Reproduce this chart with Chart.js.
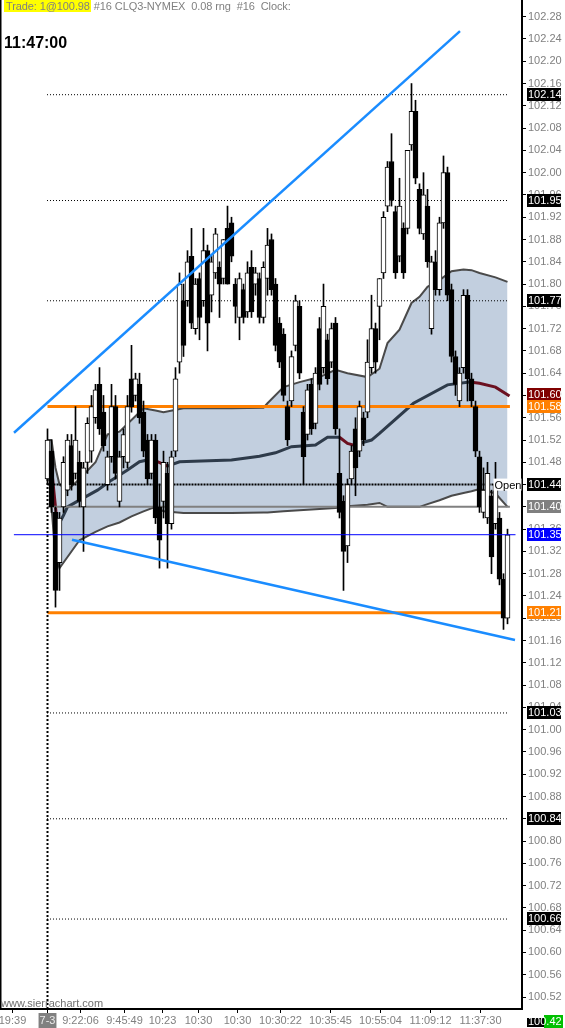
<!DOCTYPE html>
<html>
<head>
<meta charset="utf-8">
<script src="https://cdn.jsdelivr.net/npm/chart.js@4.4.0/dist/chart.umd.min.js"></script>
<style>
  html, body { margin: 0; padding: 0; background: #fff; }
  #wrap { position: relative; width: 565px; height: 1028px; overflow: hidden; }
  #chart { position: absolute; left: 0; top: 0; }
  .hdr { position: absolute; left: 4px; top: 0; font: 11px "Liberation Sans", Arial, sans-serif; letter-spacing: -0.1px; color: #808080; white-space: pre; line-height: 13px; }
  .hdr .trade { background: #ffff00; padding: 0 1px 0 2px; }
  .clock { position: absolute; left: 4px; top: 34px; font: bold 16px "Liberation Sans", Arial, sans-serif; line-height: 18px; color: #000; }
  .site { position: absolute; left: 1px; top: 997px; font: 11px "Liberation Sans", Arial, sans-serif; line-height: 13px; color: #707070; }
</style>
</head>
<body>
<div id="wrap">
  <canvas id="chart" width="565" height="1028"></canvas>
  <div class="hdr"><span class="trade">Trade: 1@100.98</span> #16 CLQ3-NYMEX  0.08 rng  #16  Clock:</div>
  <div class="clock">11:47:00</div>
  <div class="site">www.sierrachart.com</div>
</div>
<script>
// CLQ3-NYMEX intraday candles (one entry per bar)
const opens = [
  101.45, 101.50, 101.39, 101.30, 101.40, 101.43, 101.51, 101.46, 101.48, 101.40,
  101.48, 101.50, 101.56, 101.62, 101.57, 101.44, 101.49, 101.58, 101.41, 101.49,
  101.48, 101.63, 101.60, 101.62, 101.57, 101.52, 101.46, 101.52, 101.40, 101.41,
  101.46, 101.37, 101.50, 101.66, 101.77, 101.77, 101.85, 101.72, 101.81, 101.77,
  101.86, 101.78, 101.82, 101.83, 101.81, 101.90, 101.91, 101.80, 101.74, 101.79,
  101.75, 101.83, 101.80, 101.81, 101.74, 101.81, 101.88, 101.80, 101.73, 101.71,
  101.58, 101.59, 101.69, 101.76, 101.57, 101.53, 101.62, 101.55, 101.72, 101.65,
  101.70, 101.66, 101.73, 101.46, 101.41, 101.33, 101.45, 101.54, 101.50, 101.56,
  101.57, 101.65, 101.72, 101.76, 101.82, 101.94, 102.02, 101.93, 101.85, 101.90,
  101.90, 102.05, 102.11, 101.97, 101.89, 101.94, 101.72, 101.84, 101.79, 101.91,
  102.00, 101.79, 101.67, 101.59, 101.65, 101.78, 101.63, 101.58, 101.49, 101.39,
  101.38, 101.42, 101.37, 101.38, 101.27, 101.20
]
const highs = [
  101.54, 101.52, 101.40, 101.39, 101.49, 101.53, 101.53, 101.58, 101.50, 101.48,
  101.56, 101.60, 101.62, 101.65, 101.60, 101.50, 101.62, 101.60, 101.50, 101.54,
  101.60, 101.69, 101.64, 101.64, 101.59, 101.53, 101.53, 101.53, 101.44, 101.50,
  101.48, 101.50, 101.65, 101.82, 101.80, 101.86, 101.90, 101.81, 101.82, 101.90,
  101.87, 101.85, 101.90, 101.84, 101.88, 101.94, 101.92, 101.81, 101.82, 101.80,
  101.84, 101.86, 101.83, 101.82, 101.84, 101.90, 101.89, 101.81, 101.74, 101.72,
  101.59, 101.68, 101.78, 101.77, 101.58, 101.62, 101.63, 101.65, 101.74, 101.80,
  101.71, 101.73, 101.74, 101.54, 101.42, 101.45, 101.51, 101.56, 101.59, 101.57,
  101.70, 101.78, 101.73, 101.81, 101.93, 102.02, 102.07, 101.94, 101.99, 101.91,
  102.04, 102.16, 102.13, 101.98, 102.00, 101.97, 101.85, 101.86, 101.92, 102.03,
  102.01, 101.80, 101.68, 101.65, 101.79, 101.79, 101.64, 101.59, 101.50, 101.47,
  101.48, 101.43, 101.48, 101.39, 101.28, 101.36
]
const lows = [
  101.44, 101.39, 101.22, 101.25, 101.39, 101.42, 101.43, 101.45, 101.40, 101.32,
  101.46, 101.48, 101.55, 101.53, 101.50, 101.43, 101.48, 101.45, 101.40, 101.47,
  101.47, 101.57, 101.59, 101.55, 101.49, 101.44, 101.45, 101.37, 101.29, 101.38,
  101.29, 101.36, 101.49, 101.64, 101.67, 101.76, 101.72, 101.71, 101.70, 101.76,
  101.68, 101.75, 101.81, 101.74, 101.80, 101.80, 101.84, 101.73, 101.70, 101.73,
  101.74, 101.74, 101.78, 101.73, 101.73, 101.78, 101.78, 101.68, 101.65, 101.59,
  101.51, 101.58, 101.68, 101.63, 101.44, 101.52, 101.53, 101.54, 101.61, 101.64,
  101.62, 101.65, 101.53, 101.38, 101.25, 101.30, 101.44, 101.42, 101.49, 101.51,
  101.56, 101.64, 101.64, 101.70, 101.81, 101.93, 101.94, 101.81, 101.84, 101.81,
  101.89, 102.04, 101.98, 101.89, 101.88, 101.83, 101.71, 101.78, 101.78, 101.90,
  101.77, 101.66, 101.60, 101.58, 101.64, 101.59, 101.58, 101.49, 101.39, 101.38,
  101.37, 101.28, 101.36, 101.26, 101.18, 101.19
]
const closes = [
  101.52, 101.40, 101.25, 101.38, 101.48, 101.52, 101.44, 101.52, 101.41, 101.47,
  101.55, 101.58, 101.61, 101.54, 101.51, 101.49, 101.58, 101.46, 101.49, 101.53,
  101.58, 101.58, 101.63, 101.56, 101.50, 101.45, 101.52, 101.38, 101.34, 101.48,
  101.37, 101.49, 101.63, 101.80, 101.69, 101.84, 101.73, 101.80, 101.74, 101.86,
  101.73, 101.84, 101.89, 101.80, 101.88, 101.80, 101.85, 101.76, 101.81, 101.74,
  101.82, 101.75, 101.82, 101.74, 101.83, 101.87, 101.79, 101.69, 101.66, 101.60,
  101.52, 101.67, 101.77, 101.64, 101.49, 101.61, 101.54, 101.64, 101.62, 101.76,
  101.63, 101.72, 101.54, 101.39, 101.32, 101.44, 101.50, 101.47, 101.58, 101.52,
  101.66, 101.72, 101.66, 101.81, 101.92, 102.01, 101.95, 101.82, 101.94, 101.82,
  102.04, 102.11, 101.99, 101.90, 101.96, 101.84, 101.84, 101.79, 101.91, 102.00,
  101.78, 101.67, 101.62, 101.64, 101.78, 101.63, 101.59, 101.50, 101.40, 101.43,
  101.46, 101.31, 101.44, 101.27, 101.20, 101.35
]

// Bands (bar index -> price)
const bandIdx = [0, 1, 2, 3, 5, 8, 12, 15, 18, 21, 24, 27, 29, 34, 46, 54, 55, 59, 63, 68,
  72, 75, 80, 83, 85, 88, 91, 93, 95, 98, 101, 104, 106, 108, 112, 115]
const bandUpper = [101.52, 101.52, 101.47, 101.44, 101.43, 101.45, 101.48, 101.53, 101.535, 101.556,
  101.577, 101.573, 101.570, 101.577, 101.577, 101.578, 101.586, 101.615, 101.624, 101.633,
  101.646, 101.640, 101.633, 101.648, 101.694, 101.718, 101.766, 101.777, 101.795, 101.807,
  101.823, 101.826, 101.825, 101.820, 101.812, 101.804]
const bandLower = [101.50, 101.40, 101.31, 101.29, 101.31, 101.34, 101.355, 101.365, 101.372, 101.383,
  101.392, 101.400, 101.392, 101.389, 101.389, 101.390, 101.390, 101.392, 101.394, 101.396,
  101.398, 101.401, 101.404, 101.407, 101.400, 101.400, 101.400, 101.400, 101.405, 101.412,
  101.420, 101.425, 101.428, 101.432, 101.424, 101.400]
const midIdx = [0, 1, 2.5, 4, 5, 8, 12.5, 16, 20, 23, 25, 27.5, 30, 33, 46, 53, 57, 61, 67, 70,
  73, 75, 77, 79, 81, 83, 91.5, 100, 105.5, 108, 112, 115.5]
const midLine = [101.511, 101.47, 101.364, 101.385, 101.400, 101.412, 101.430, 101.448, 101.466, 101.481,
  101.484, 101.481, 101.473, 101.481, 101.484, 101.491, 101.497, 101.508, 101.511, 101.525,
  101.525, 101.514, 101.510, 101.516, 101.520, 101.532, 101.586, 101.619, 101.624, 101.622,
  101.615, 101.599]

// Levels
const dottedLevels = [102.14, 101.95, 101.77, 101.03, 100.84, 100.66]
const orangeLevels = [101.58, 101.21]
const openLevel = 101.44
const prevLevel = 101.40
const lastLevel = 101.35

// Trend lines (bar index, price)
const trendUpIdx = [-8.375, 103.125]
const trendUpVal = [101.533, 102.254]
const trendDnIdx = [6.125, 116.875]
const trendDnVal = [101.341, 101.161]

// Axis labels
const xTickIdx = [-8.75, 0, 8.25, 19.25, 28.75, 37.75, 47.5, 58.25, 70.75, 83.25, 95.75, 108.25]
const xTickLabels = ["19:39", "7-3", "9:22:06", "9:45:49", "10:23", "10:30", "10:30", "10:30:22", "10:35:45", "10:55:04", "11:09:12", "11:37:30"]
const yTicks = []
for (let k = 0; k <= 44; k++) yTicks.push(Math.round((100.52 + 0.04 * k) * 100) / 100)

// Price boxes on the right scale
const boxValues = [102.14, 101.95, 101.77, 101.60, 101.58, 101.44, 101.40, 101.35, 101.21, 101.03, 100.84, 100.66]
const boxColors = ["#000", "#000", "#000", "#800000", "#ff8000", "#000", "#808080", "#0000ff", "#ff8000", "#000", "#000", "#000"]

const Y_MIN = 100.4985
const Y_MAX = 102.31
const X_MIN = -11.875
const X_MAX = 118.625
const FONT = '"Liberation Sans", Arial, sans-serif'

Chart.defaults.font.family = FONT

function hline(v, from, to, color, width, dash, order) {
  return {
    type: "line",
    data: [{ x: from, y: v }, { x: to, y: v }],
    borderColor: color,
    borderWidth: width,
    borderDash: dash || [],
    pointRadius: 0,
    fill: false,
    order: order,
  }
}

function buildDatasets() {
  const ds = []
  ds.push({
    type: "line",
    data: bandIdx.map((x, k) => ({ x: x, y: bandUpper[k] })),
    borderColor: "#4a4a4a",
    borderWidth: 2,
    backgroundColor: "#c2cfdf",
    fill: "+1",
    pointRadius: 0,
    order: 30,
  })
  ds.push({
    type: "line",
    data: bandIdx.map((x, k) => ({ x: x, y: bandLower[k] })),
    borderColor: "#4a4a4a",
    borderWidth: 2,
    fill: false,
    pointRadius: 0,
    order: 29,
  })
  ds.push({
    type: "line",
    data: midIdx.map((x, k) => ({ x: x, y: midLine[k] })),
    borderColor: "#2e3b4a",
    borderWidth: 3,
    fill: false,
    pointRadius: 0,
    order: 28,
    segment: {
      borderColor: (ctx) => (ctx.p1.parsed.y < ctx.p0.parsed.y - 0.0005 ? "#6b1020" : "#2e3b4a"),
    },
  })
  // dotted levels start on a whole pixel so the dots stay crisp
  dottedLevels.forEach((v) => ds.push(hline(v, -0.125, 115.125, "#000", 1, [1, 2], 26)))
  ds.push(hline(openLevel, 0, 111.5, "#000", 2, [2, 1], 25))
  ds.push(hline(prevLevel, 0, 115.6, "#808080", 2, null, 24))
  orangeLevels.forEach((v) => ds.push(hline(v, 0, 115.6, "#ff8000", 3, null, 23)))
  // day separator
  ds.push({
    type: "line",
    data: [{ x: 0, y: 101.45 }, { x: 0, y: Y_MIN }],
    borderColor: "#000",
    borderWidth: 2,
    borderDash: [2, 2],
    pointRadius: 0,
    fill: false,
    order: 22,
  })
  // candle wicks
  ds.push({
    type: "bar",
    data: opens.map((o, i) => ({ x: i, y: [lows[i], highs[i]] })),
    backgroundColor: "#000",
    barThickness: 1,
    grouped: false,
    order: 12,
  })
  // candle bodies
  ds.push({
    type: "bar",
    data: opens.map((o, i) => ({ x: i, y: [o, closes[i]] })),
    backgroundColor: opens.map((o, i) => (closes[i] >= o ? "#fff" : "#000")),
    borderColor: "#000",
    borderWidth: 1,
    borderSkipped: false,
    barThickness: 5,
    grouped: false,
    order: 11,
  })
  ds.push(hline(lastLevel, -8.4, 117, "#0000ff", 1, null, 5))
  ds.push({
    type: "line",
    data: trendUpIdx.map((x, k) => ({ x: x, y: trendUpVal[k] })),
    borderColor: "#1a8cff",
    borderWidth: 2.5,
    pointRadius: 0,
    fill: false,
    order: 4,
  })
  ds.push({
    type: "line",
    data: trendDnIdx.map((x, k) => ({ x: x, y: trendDnVal[k] })),
    borderColor: "#1a8cff",
    borderWidth: 2.5,
    pointRadius: 0,
    fill: false,
    order: 4,
  })
  return ds
}

// white background + right side price boxes
const chartExtras = {
  id: "chartExtras",
  beforeDraw(chart) {
    const ctx = chart.ctx
    ctx.save()
    ctx.fillStyle = "#fff"
    ctx.fillRect(0, 0, chart.width, chart.height)
    ctx.restore()
  },
  afterDraw(chart) {
    const { ctx, scales } = chart
    const y = scales.y
    const x = scales.x
    ctx.save()
    ctx.fillStyle = "#000"
    ctx.fillRect(0, 0, 1.5, 1010)

    ctx.font = "11px " + FONT
    ctx.textBaseline = "middle"
    ctx.textAlign = "left"
    boxValues.forEach((v, k) => {
      const py = Math.round(y.getPixelForValue(v)) - 1
      ctx.fillStyle = boxColors[k]
      ctx.fillRect(527, py - 6, 34, 13)
      ctx.fillStyle = "#fff"
      ctx.fillText(v.toFixed(2), 528, py + 1)
    })

    // "Open" label at the end of the open line
    const oy = y.getPixelForValue(openLevel)
    const ox = x.getPixelForValue(111.5)
    ctx.fillStyle = "#fff"
    ctx.fillRect(ox, oy - 6, 28, 12)
    ctx.fillStyle = "#000"
    ctx.fillText("Open", ox + 1, oy + 1)

    // last price tag at the bottom right
    ctx.fillStyle = "#000"
    ctx.fillRect(527, 1018, 20, 9)
    ctx.fillStyle = "#00c000"
    ctx.fillRect(544, 1015, 19, 13)
    ctx.fillStyle = "#fff"
    ctx.fillText("100.42", 528, 1022)
    ctx.restore()
  },
}

new Chart(document.getElementById("chart").getContext("2d"), {
  type: "bar",
  data: { datasets: buildDatasets() },
  options: {
    responsive: false,
    animation: false,
    devicePixelRatio: 1,
    layout: { padding: 0 },
    plugins: {
      legend: { display: false },
      tooltip: { enabled: false },
    },
    scales: {
      x: {
        type: "linear",
        min: X_MIN,
        max: X_MAX,
        offset: false,
        afterBuildTicks: (s) => {
          s.ticks = xTickIdx.map((v) => ({ value: v }))
        },
        afterFit: (s) => {
          s.height = 19
          s.paddingLeft = 0
          s.paddingRight = 0
        },
        grid: { drawOnChartArea: false, offset: false, tickLength: 4, color: "#000" },
        border: { color: "#000", width: 2 },
        ticks: {
          autoSkip: false,
          maxRotation: 0,
          padding: 1,
          font: { size: 11 },
          color: (ctx) => (ctx.index === 1 ? "#e8e8e8" : "#808080"),
          showLabelBackdrop: (ctx) => ctx.index === 1,
          backdropColor: "#808080",
          backdropPadding: { left: 1, right: 1, top: 1, bottom: 1 },
          callback: (value, index) => xTickLabels[index],
        },
      },
      y: {
        position: "right",
        min: Y_MIN,
        max: Y_MAX,
        afterBuildTicks: (s) => {
          s.ticks = yTicks.map((v) => ({ value: v }))
        },
        afterFit: (s) => {
          s.width = 43
          s.paddingTop = 0
          s.paddingBottom = 0
        },
        grid: { drawOnChartArea: false, tickLength: 4, color: "#000" },
        border: { color: "#000", width: 2 },
        ticks: {
          padding: 2,
          font: { size: 11 },
          color: "#808080",
          callback: (value) => Number(value).toFixed(2),
        },
      },
    },
  },
  plugins: [chartExtras],
})
</script>
</body>
</html>
